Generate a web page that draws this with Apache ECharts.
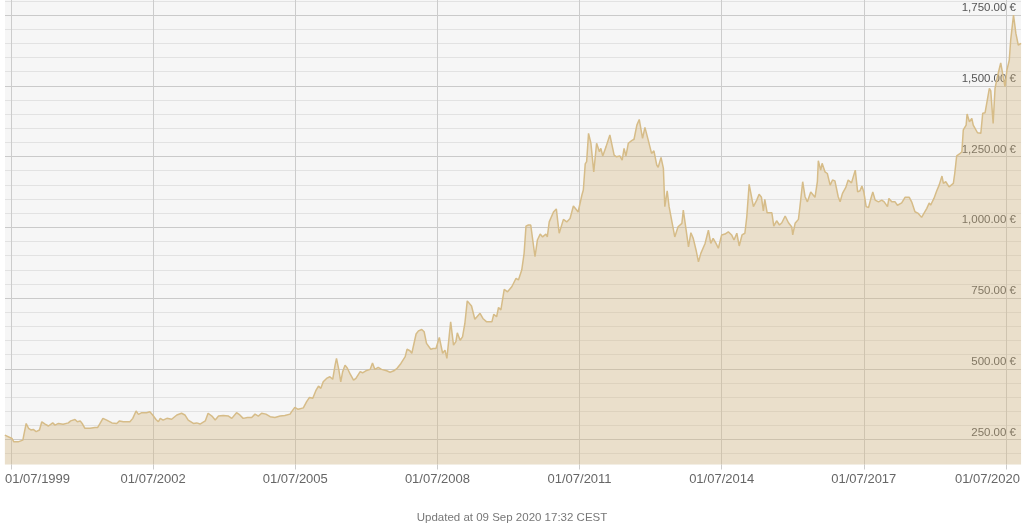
<!DOCTYPE html>
<html>
<head>
<meta charset="utf-8">
<script src="https://cdn.jsdelivr.net/npm/echarts@6/dist/echarts.min.js"></script>
<style>html,body{margin:0;padding:0;background:#fff}#c{width:1024px;height:523px}</style>
</head>
<body>
<div id="c"></div>
<script>
// Dates as decimal years, prices in EUR per ounce
var dates = [
1999.37,1999.52,1999.56,1999.65,1999.75,1999.77,1999.82,1999.87,1999.92,1999.97,
2000.03,2000.10,2000.15,2000.22,2000.29,2000.38,2000.43,2000.50,2000.60,2000.71,2000.76,2000.85,2000.90,2000.96,
2001.01,2001.06,2001.17,2001.27,2001.33,2001.38,2001.44,2001.52,2001.63,2001.73,2001.79,2001.87,
2002.01,2002.07,2002.14,2002.19,2002.26,2002.36,2002.43,2002.49,2002.56,2002.61,2002.65,2002.71,2002.79,2002.89,
2003.00,2003.10,2003.17,2003.24,2003.35,2003.42,2003.49,2003.53,2003.60,2003.66,2003.74,2003.81,2003.88,2003.98,
2004.09,2004.16,2004.26,2004.33,2004.40,2004.49,2004.58,2004.65,2004.72,2004.79,2004.88,2004.97,
2005.07,2005.18,2005.28,2005.39,2005.42,2005.49,2005.56,2005.67,2005.74,2005.80,2005.87,2005.94,2005.99,
2006.04,2006.09,2006.16,2006.23,2006.29,2006.34,2006.37,2006.42,2006.46,2006.50,2006.55,2006.60,2006.66,2006.73,2006.78,2006.87,2006.92,2006.99,
2007.08,2007.13,2007.18,2007.25,2007.32,2007.43,2007.50,2007.58,2007.65,2007.73,2007.82,2007.86,2007.92,2007.96,
2008.05,2008.10,2008.17,2008.22,2008.27,2008.36,2008.41,2008.47,2008.54,2008.61,2008.66,2008.70,2008.78,2008.84,2008.89,2008.92,2008.98,
2009.03,2009.08,2009.13,2009.17,2009.22,2009.29,2009.40,2009.46,2009.54,2009.65,2009.69,2009.75,2009.79,2009.84,2009.91,2009.98,
2010.07,2010.16,2010.21,2010.28,2010.33,2010.37,2010.42,2010.47,2010.51,2010.56,2010.61,2010.67,2010.72,2010.79,2010.82,2010.86,2010.95,
2011.01,2011.07,2011.16,2011.23,2011.30,2011.37,2011.43,2011.47,2011.55,2011.58,2011.62,2011.65,2011.69,2011.74,2011.80,2011.86,2011.92,2011.95,2011.99,
2012.06,2012.14,2012.23,2012.28,2012.35,2012.40,2012.44,2012.48,2012.53,2012.60,2012.65,2012.71,2012.76,2012.83,2012.88,2012.95,
2013.02,2013.07,2013.13,2013.16,2013.22,2013.27,2013.30,2013.35,2013.39,2013.43,2013.51,2013.58,2013.66,2013.69,2013.75,2013.80,2013.85,2013.90,2013.96,
2014.01,2014.06,2014.15,2014.22,2014.27,2014.32,2014.38,2014.43,2014.50,2014.57,2014.64,2014.71,2014.76,2014.82,2014.87,2014.93,2014.99,
2015.03,2015.08,2015.17,2015.24,2015.29,2015.34,2015.38,2015.41,2015.46,2015.56,2015.60,2015.66,2015.72,2015.77,2015.84,2015.91,2015.98,
2016.00,2016.05,2016.12,2016.15,2016.21,2016.26,2016.31,2016.38,2016.47,2016.52,2016.54,2016.59,2016.62,2016.68,2016.73,2016.79,2016.84,2016.89,2016.96,
2017.00,2017.05,2017.12,2017.17,2017.24,2017.32,2017.37,2017.42,2017.46,2017.50,2017.55,2017.60,2017.65,2017.69,2017.74,2017.81,2017.88,2017.93,
2018.00,2018.03,2018.09,2018.16,2018.21,2018.30,2018.37,2018.46,2018.51,2018.58,2018.65,2018.72,2018.76,2018.83,2018.88,2018.91,2018.98,
2019.04,2019.09,2019.15,2019.18,2019.23,2019.30,2019.39,2019.42,2019.46,2019.52,2019.57,2019.60,2019.66,2019.68,2019.73,2019.78,2019.81,2019.85,2019.90,2019.97,
2020.01,2020.06,2020.09,2020.15,2020.18,2020.23,2020.27,2020.32,2020.39,2020.43,2020.48,2020.52,2020.57,2020.60,2020.66,2020.71,2020.76,2020.82
];
var prices = [
266,254,242,242,248,266,307,290,284,286,
278,284,313,305,298,309,301,307,304,309,316,321,313,316,
305,290,290,293,293,307,325,319,309,307,316,313,
313,325,351,339,345,345,348,337,321,313,325,319,325,322,
337,343,337,319,307,309,305,301,316,343,333,319,333,335,
333,325,345,337,325,328,328,340,333,343,340,331,
328,333,335,340,348,364,357,362,384,399,396,425,439,
431,454,466,472,463,513,537,496,454,490,513,502,481,460,466,490,486,493,
498,521,498,505,498,493,488,493,502,519,543,569,564,555,
623,634,639,631,590,569,572,572,611,555,566,537,666,584,596,627,601,
613,661,740,743,722,675,696,678,666,666,693,684,717,708,781,772,
790,820,814,849,908,1004,1008,1008,1014,896,955,976,966,976,966,1019,1054,
1065,979,1028,1019,1031,1075,1063,1054,1114,1132,1224,1232,1332,1297,1196,1297,1267,1279,1252,
1285,1326,1255,1249,1252,1237,1279,1252,1297,1306,1311,1361,1381,1314,1353,1308,
1261,1270,1220,1212,1247,1208,1073,1129,1073,1079,966,1002,1014,1061,990,931,981,961,919,
878,908,943,990,943,961,943,926,973,976,984,973,955,979,934,973,979,
1037,1152,1073,1096,1117,1106,1058,1099,1051,1051,1004,1023,1008,1016,1040,1016,1001,
973,1014,1028,1070,1161,1108,1090,1125,1106,1161,1235,1202,1226,1196,1190,1149,1167,1164,1108,
1090,1120,1141,1167,1157,1202,1125,1129,1146,1125,1073,1070,1102,1125,1096,1090,1096,1090,
1073,1102,1090,1090,1078,1086,1106,1106,1090,1055,1049,1035,1031,1067,1086,1078,1102,
1129,1149,1181,1155,1161,1143,1155,1191,1252,1259,1267,1344,1361,1400,1373,1385,1361,1355,1334,1332,
1403,1405,1403,1491,1482,1367,1491,1532,1581,1585,1497,1555,1590,1661,1750,1685,1644,1650
];
var xTicks = [1999.5, 2002.5, 2005.5, 2008.5, 2011.5, 2014.5, 2017.5, 2020.5];
var yMajorTicks = [250, 500, 750, 1000, 1250, 1500, 1750];
var yMinorTicks = [200, 300, 350, 400, 450, 550, 600, 650, 700, 800, 850, 900, 950, 1050, 1100, 1150, 1200, 1300, 1350, 1400, 1450, 1550, 1600, 1650, 1700, 1800];
var footerText = 'Updated at 09 Sep 2020 17:32 CEST';

var seriesData = dates.map(function (d, i) { return [d, prices[i]]; });
var FONT = '"Liberation Sans", Arial, sans-serif';

function fmtEuro(v) {
  var s = v.toFixed(2);
  var parts = s.split('.');
  parts[0] = parts[0].replace(/\B(?=(\d{3})+(?!\d))/g, ',');
  return parts.join('.') + ' \u20ac';
}

var chart = echarts.init(document.getElementById('c'), null, {renderer: 'canvas'});
chart.setOption({
  animation: false,
  backgroundColor: '#ffffff',
  title: {
    text: footerText,
    left: 'center',
    top: 507,
    textStyle: {fontFamily: FONT, fontSize: 11.5, fontWeight: 'normal', color: '#777'}
  },
  grid: {
    left: 5, right: 3, top: 0, bottom: 58.5,
    show: true, backgroundColor: '#f6f6f6', borderWidth: 0
  },
  xAxis: {
    type: 'value',
    min: 1999.373, max: 2020.818,
    axisLine: {show: false, onZero: false},
    axisTick: {show: true, length: 5, customValues: xTicks, lineStyle: {color: '#cccccc'}},
    splitLine: {show: true, lineStyle: {color: '#cccccc', width: 1}},
    axisLabel: {
      customValues: xTicks,
      margin: 8,
      fontFamily: FONT, fontSize: 13, color: '#666',
      formatter: function (v) {
        var t = '01/07/' + Math.floor(v);
        if (Math.abs(v - xTicks[0]) < 1e-6) return '{first|' + t + '}';
        if (Math.abs(v - xTicks[xTicks.length - 1]) < 1e-6) return '{last|' + t + '}';
        return t;
      },
      rich: {
        first: {fontFamily: FONT, fontSize: 13, color: '#666', padding: [0, 0, 0, 53]},
        last: {fontFamily: FONT, fontSize: 13, color: '#666', padding: [0, 37, 0, 0]}
      }
    }
  },
  yAxis: [{
    type: 'value', position: 'right',
    min: 162, max: 1803,
    axisLine: {show: false},
    axisTick: {show: false, customValues: yMajorTicks},
    splitLine: {show: true, lineStyle: {color: '#cacaca', width: 1}},
    axisLabel: {
      inside: true, customValues: yMajorTicks, margin: 5,
      fontFamily: FONT, fontSize: 11.5, color: '#555',
      verticalAlign: 'bottom', padding: [0, 0, 1, 0],
      formatter: function (v) { return fmtEuro(v); }
    }
  }, {
    type: 'value', position: 'right',
    min: 162, max: 1803,
    axisLine: {show: false},
    axisTick: {show: false, customValues: yMinorTicks},
    axisLabel: {show: false},
    splitLine: {show: true, lineStyle: {color: '#e2e2e2', width: 1}}
  }],
  series: [{
    type: 'line',
    yAxisIndex: 0,
    data: seriesData,
    showSymbol: false,
    symbol: 'none',
    lineStyle: {color: '#d6bc88', width: 1.5},
    areaStyle: {color: 'rgba(212,182,124,0.5)', origin: 'start'},
    z: 3
  }]
});
</script>
</body>
</html>
